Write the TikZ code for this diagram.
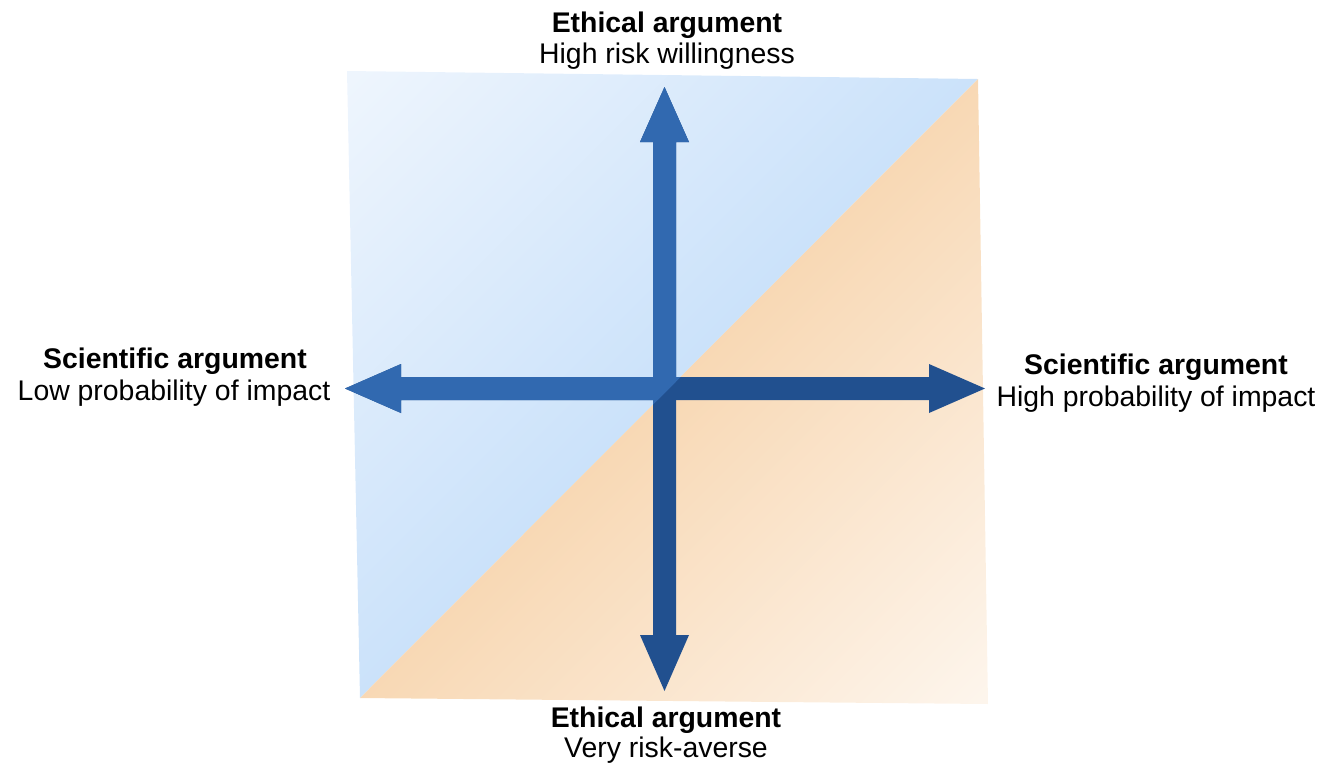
\documentclass[tikz,border=0pt]{standalone}
\usepackage{fontspec}
\setmainfont{Liberation Sans}
\definecolor{bluebg}{HTML}{CBE2FA}
\definecolor{bluelight}{HTML}{EEF5FD}
\definecolor{orangebg}{HTML}{F8D8B4}
\definecolor{orangelight}{HTML}{FDF5EC}
\definecolor{arrowlight}{HTML}{3169B0}
\definecolor{arrowdark}{HTML}{21508F}
\tikzset{
  lbl/.style={anchor=base, inner sep=0pt, font=\fontsize{14.2}{17}\selectfont},
  lblb/.style={lbl, font=\fontsize{14.2}{17}\selectfont\bfseries},
}
\begin{document}
\begin{tikzpicture}[x=0.5pt, y=-0.5pt]
\useasboundingbox (0,0) rectangle (1324,767);
% corners of the square
\coordinate (TL) at (347,71);
\coordinate (TR) at (978,79);
\coordinate (BR) at (988,704);
\coordinate (BL) at (360,698);
\coordinate (C) at (664.5,388.5);
% blue triangle
\begin{scope}
  \clip (TL) -- (TR) -- (BL) -- cycle;
  \shade[top color=bluelight, bottom color=bluebg, middle color=bluebg, shading angle=45]
    (222,-57) rectangle (1112,833);
\end{scope}
% orange triangle
\begin{scope}
  \clip (TR) -- (BR) -- (BL) -- cycle;
  \shade[top color=orangebg, bottom color=orangelight, middle color=orangebg, shading angle=45]
    (222,-57) rectangle (1112,833);
\end{scope}
% arrows
\def\harrow{(345,388.5) -- (401,364) -- (401,377) -- (929,377) -- (929,364) -- (985,388.5) -- (929,413) -- (929,400) -- (401,400) -- (401,413) -- cycle}
\def\varrow{(664.5,87) -- (689,142) -- (676,142) -- (676,635) -- (689,635) -- (664.5,691) -- (640,635) -- (653,635) -- (653,142) -- (640,142) -- cycle}
\fill[arrowdark] \varrow;
\fill[arrowdark] \harrow;
\begin{scope}
  \clip (-40,1098) -- (1378,-321) -- (-40,-321) -- cycle;
  \fill[arrowlight] \varrow;
  \fill[arrowlight] \harrow;
\end{scope}
% labels
\node[lblb] (t1) at (667,32) {Ethical argument};
\node[lbl]  (t2) at (667,63) {High risk willingness};
\node[lblb] (b1) at (666,727) {Ethical argument};
\node[lbl]  (b2) at (666,757) {Very risk-averse};
\node[lblb] (l1) at (175,368) {Scientific argument};
\node[lbl]  (l2) at (174,400) {Low probability of impact};
\node[lblb] (r1) at (1156,374) {Scientific argument};
\node[lbl]  (r2) at (1156,406) {High probability of impact};
\end{tikzpicture}
\end{document}
